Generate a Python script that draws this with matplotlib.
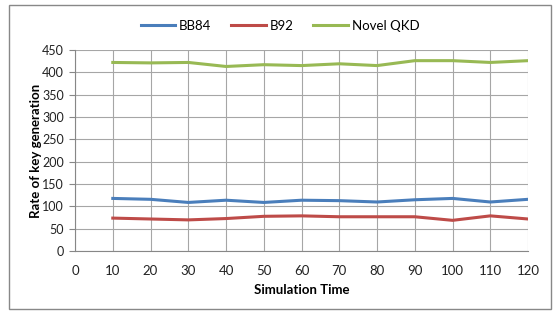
import matplotlib
matplotlib.use("Agg")
import matplotlib.pyplot as plt
from matplotlib.patches import Rectangle

plt.rcParams['font.family'] = ['Lato', 'DejaVu Sans']

x = [10, 20, 30, 40, 50, 60, 70, 80, 90, 100, 110, 120]
bb84 = [118, 116, 109, 114, 109, 114, 113, 110, 115, 118, 110, 116]
b92 = [74, 72, 70, 73, 78, 79, 77, 77, 77, 69, 79, 72]
novel = [422, 421, 422, 413, 417, 415, 419, 415, 426, 426, 422, 426]
xticks = list(range(0, 121, 10))
yticks = list(range(0, 451, 50))

fig = plt.figure(figsize=(5.6, 3.14), dpi=100)
ax = fig.add_axes([0.134, 0.200, 0.809, 0.641])

ax.plot(x, bb84, color='#4A7EBB', lw=2.2, label='BB84')
ax.plot(x, b92, color='#BE4B48', lw=2.2, label='B92')
ax.plot(x, novel, color='#98B954', lw=2.2, label='Novel QKD')

ax.set_xlim(0, 120)
ax.set_ylim(0, 450)
ax.set_xticks(xticks)
ax.set_yticks(yticks)
ax.grid(True, color='#A6A6A6', lw=0.8)
ax.set_axisbelow(True)
for s in ['top', 'right']:
    ax.spines[s].set_visible(False)
ax.spines['left'].set_color('#878787')
ax.spines['bottom'].set_color('#878787')
ax.tick_params(axis='y', length=4, color='#878787', labelsize=9, labelcolor='#222222', pad=4)
ax.tick_params(axis='x', length=0, labelsize=9.5, labelcolor='#222222', pad=10)
ax.set_xlabel('Simulation Time', fontsize=9.5, fontweight='bold', labelpad=5)
ax.set_ylabel('Rate of key generation', fontsize=9.5, fontweight='bold')
ax.yaxis.set_label_coords(-0.072, 0.5)

fig.legend(loc='upper center', bbox_to_anchor=(0.5, 0.975), ncol=3, frameon=False,
           fontsize=9.5, handlelength=2.6, handletextpad=0.3, columnspacing=1.5)

fig.patches.append(Rectangle((0.016, 0.016), 0.968, 0.968, transform=fig.transFigure,
                             fill=False, edgecolor='#888888', lw=1.0))

fig.savefig('out.png', dpi=100)
